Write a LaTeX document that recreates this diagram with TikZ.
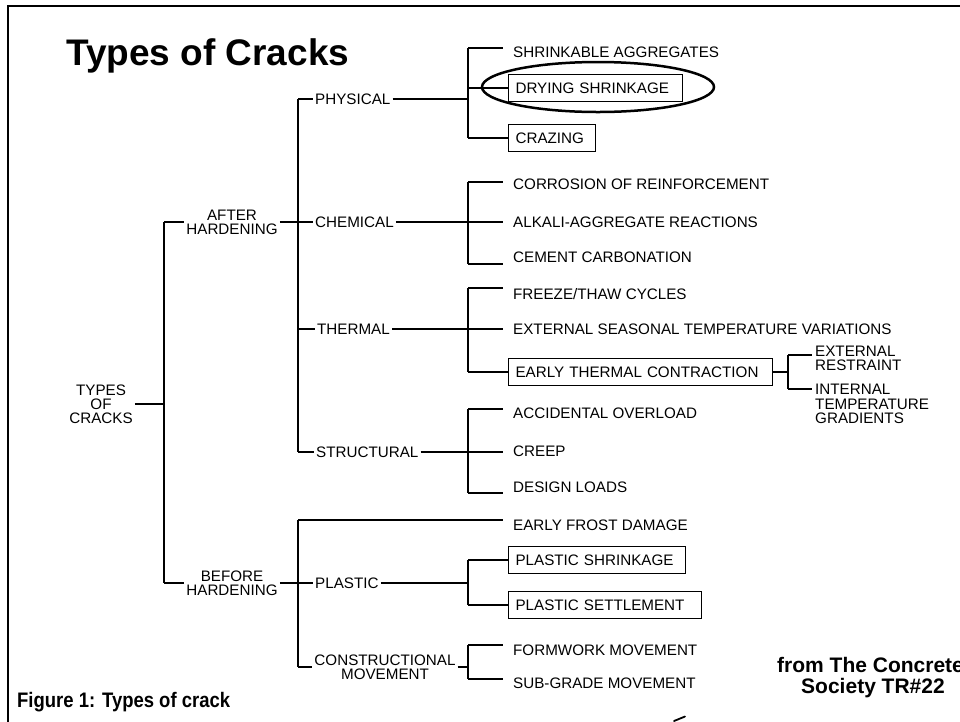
\documentclass[tikz,border=0pt]{standalone}
\usepackage{fontspec}
\setmainfont{Liberation Sans}
\usetikzlibrary{shapes.geometric}
\begin{document}
\begin{tikzpicture}[x=1pt,y=-1pt,
  ln/.style={line width=1.1pt},
  dfont/.style={font=\fontsize{15.2}{14.2}\selectfont},
  lbl/.style={dfont, anchor=west, inner ysep=0pt, inner xsep=2pt, text height=10.8pt, text depth=0pt},
  ml/.style={dfont, inner sep=2pt, align=center},
  leaf/.style={lbl, inner xsep=10pt},
  bx/.style={draw, line width=1.1pt, dfont, anchor=west, inner xsep=7pt, inner ysep=8.5pt, text height=10.8pt, text depth=0pt, align=left},
  big/.style={font=\bfseries\fontsize{21}{23}\selectfont, inner sep=0pt}
]
\useasboundingbox (0,0) rectangle (960,721);
% frame
\draw[line width=2.2pt] (8.3,730) -- (8.3,6) -- (970,6);
% title
\node[anchor=base west, font=\bfseries\fontsize{37}{40}\selectfont, inner sep=0pt] (title) at (66,65) {Types of Cracks};

% root
\node[ml] (root) at (101,404) {TYPES\\OF\\CRACKS};
\coordinate (r1t) at (164,222);
\coordinate (r1m) at (164,404);
\coordinate (r1b) at (164,583);
\draw[ln] (r1t) -- (r1b);
\draw[ln] (root.east) -- (r1m);

% after hardening
\node[ml] (ah) at (232,222) {AFTER\\HARDENING};
\draw[ln] (r1t) -- (ah.west |- r1t);
\coordinate (a2t) at (298,99);
\coordinate (a2c) at (298,222);
\coordinate (a2th) at (298,329);
\coordinate (a2b) at (298,452);
\draw[ln] (a2t) -- (a2b);
\draw[ln] (ah.east |- a2c) -- (a2c);

\node[lbl] (phys) at (313,99) {PHYSICAL};
\node[lbl] (chem) at (313,222) {CHEMICAL};
\node[lbl] (therm) at (315,329) {THERMAL};
\node[lbl] (struct) at (314,452) {STRUCTURAL};
\draw[ln] (a2t) -- (phys.west);
\draw[ln] (a2c) -- (chem.west);
\draw[ln] (a2th) -- (therm.west);
\draw[ln] (a2b) -- (struct.west);

% physical group
\coordinate (p3t) at (468,48);
\coordinate (p3m) at (468,99);
\coordinate (p3b) at (468,138);
\draw[ln] (p3t) -- (p3b);
\draw[ln] (phys.east) -- (p3m);
\node[leaf] (shr) at (503,52) {SHRINKABLE AGGREGATES};
\node[bx, text width=160pt] (dry) at (508,88) {DRYING SHRINKAGE};
\node[bx, text width=73pt] (craz) at (508,138) {CRAZING};
\draw[ln] (p3t) -- (shr.west |- p3t);
\draw[ln] (dry.west -| p3t) -- (dry.west);
\draw[ln] (p3b) -- (craz.west);
\node[draw, ellipse, line width=2.5pt, minimum width=232pt, minimum height=50pt, inner sep=0pt] (oval) at (598,87) {};

% chemical group
\coordinate (c3t) at (468,182);
\coordinate (c3m) at (468,222);
\coordinate (c3b) at (468,264);
\draw[ln] (c3t) -- (c3b);
\draw[ln] (chem.east) -- (c3m);
\node[leaf] (corr) at (503,184) {CORROSION OF REINFORCEMENT};
\node[leaf] (alk) at (503,222) {ALKALI-AGGREGATE REACTIONS};
\node[leaf] (cem) at (503,257) {CEMENT CARBONATION};
\draw[ln] (c3t) -- (corr.west |- c3t);
\draw[ln] (c3m) -- (alk.west);
\draw[ln] (c3b) -- (cem.west |- c3b);

% thermal group
\coordinate (t3t) at (468,288);
\coordinate (t3m) at (468,329);
\coordinate (t3b) at (468,372);
\draw[ln] (t3t) -- (t3b);
\draw[ln] (therm.east) -- (t3m);
\node[leaf] (frz) at (503,294) {FREEZE/THAW CYCLES};
\node[leaf] (ext) at (503,329) {EXTERNAL SEASONAL TEMPERATURE VARIATIONS};
\node[bx, text width=250pt] (etc) at (508,372) {EARLY THERMAL CONTRACTION};
\draw[ln] (t3t) -- (frz.west |- t3t);
\draw[ln] (t3m) -- (ext.west);
\draw[ln] (t3b) -- (etc.west);
\coordinate (e4t) at (788,355);
\coordinate (e4m) at (788,372);
\coordinate (e4b) at (788,389);
\draw[ln] (e4t) -- (e4b);
\draw[ln] (etc.east) -- (e4m);
\node[ml, anchor=west, align=left, inner xsep=3pt] (er) at (812,358) {EXTERNAL\\RESTRAINT};
\node[ml, anchor=west, align=left, inner xsep=3pt] (itg) at (812,404) {INTERNAL\\TEMPERATURE\\GRADIENTS};
\draw[ln] (e4t) -- (er.west |- e4t);
\draw[ln] (e4b) -- (itg.west |- e4b);

% structural group
\coordinate (s3t) at (468,409);
\coordinate (s3m) at (468,452);
\coordinate (s3b) at (468,493);
\draw[ln] (s3t) -- (s3b);
\draw[ln] (struct.east) -- (s3m);
\node[leaf] (acc) at (503,413) {ACCIDENTAL OVERLOAD};
\node[leaf] (creep) at (503,451) {CREEP};
\node[leaf] (des) at (503,487) {DESIGN LOADS};
\draw[ln] (s3t) -- (acc.west |- s3t);
\draw[ln] (s3m) -- (creep.west |- s3m);
\draw[ln] (s3b) -- (des.west |- s3b);

% before hardening
\node[ml] (bh) at (232,583) {BEFORE\\HARDENING};
\draw[ln] (r1b) -- (bh.west |- r1b);
\coordinate (b2t) at (298,520);
\coordinate (b2m) at (298,583);
\coordinate (b2b) at (298,667);
\draw[ln] (b2t) -- (b2b);
\draw[ln] (bh.east |- b2m) -- (b2m);
\node[leaf] (efd) at (503,525) {EARLY FROST DAMAGE};
\draw[ln] (b2t) -- (efd.west |- b2t);
\node[lbl] (plas) at (313,583) {PLASTIC};
\draw[ln] (b2m) -- (plas.west);
\node[ml] (con) at (385,667) {CONSTRUCTIONAL\\MOVEMENT};
\draw[ln] (b2b) -- (con.west |- b2b);

\coordinate (pl3t) at (468,560);
\coordinate (pl3m) at (468,583);
\coordinate (pl3b) at (468,605);
\draw[ln] (pl3t) -- (pl3b);
\draw[ln] (plas.east) -- (pl3m);
\node[bx, text width=163pt] (psh) at (508,560) {PLASTIC SHRINKAGE};
\node[bx, text width=179pt] (pse) at (508,605) {PLASTIC SETTLEMENT};
\draw[ln] (pl3t) -- (psh.west);
\draw[ln] (pl3b) -- (pse.west);

\coordinate (co3t) at (468,645);
\coordinate (co3m) at (468,667);
\coordinate (co3b) at (468,679);
\draw[ln] (co3t) -- (co3b);
\draw[ln] (con.east |- co3m) -- (co3m);
\node[leaf] (form) at (503,650) {FORMWORK MOVEMENT};
\node[leaf] (sub) at (503,683) {SUB-GRADE MOVEMENT};
\draw[ln] (co3t) -- (form.west |- co3t);
\draw[ln] (co3b) -- (sub.west |- co3b);

% captions
\node[big, anchor=west] (fig) at (17,702) {\scalebox{0.88}[1]{Figure 1: Types of crack}};
\node[big, anchor=west] (src1) at (777,665) {from The Concrete};
\node[big] (src2) at (873,688) {Society TR\#22};
\draw[line width=1.8pt, line cap=round] (674,721) -- (685,716.5);
\end{tikzpicture}
\end{document}
